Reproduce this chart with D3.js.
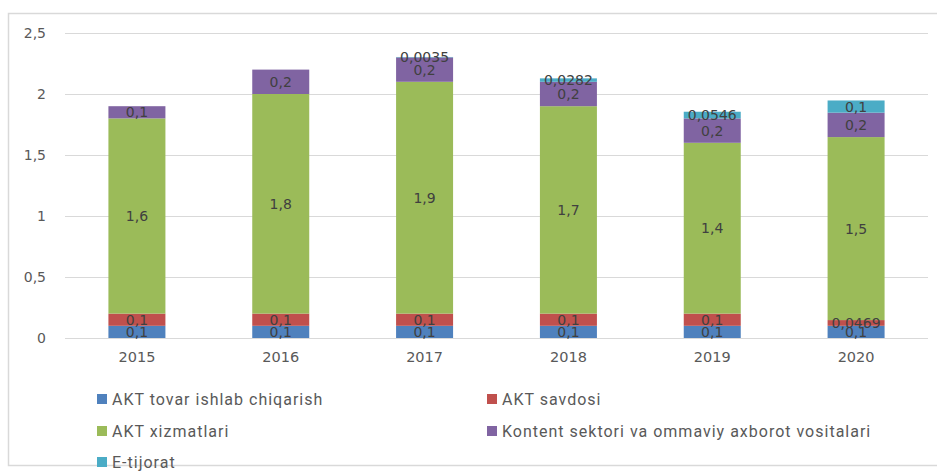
<!DOCTYPE html>
<html>
<head>
<meta charset="utf-8">
<script src="https://cdn.jsdelivr.net/npm/d3@7"></script>
<style>
  body { margin: 0; background: #fff; }
  svg { display: block; }
</style>
</head>
<body>
<svg></svg>
<script>
// Data
const years = ["2015", "2016", "2017", "2018", "2019", "2020"];
const seriesNames = [
  "AKT tovar ishlab chiqarish",
  "AKT savdosi",
  "AKT xizmatlari",
  "Kontent sektori va ommaviy axborot vositalari",
  "E-tijorat"
];
const tovar = [0.1, 0.1, 0.1, 0.1, 0.1, 0.1];
const savdo = [0.1, 0.1, 0.1, 0.1, 0.1, 0.0469];
const xizmat = [1.6, 1.8, 1.9, 1.7, 1.4, 1.5];
const kontent = [0.1, 0.2, 0.2, 0.2, 0.2, 0.2];
const etijorat = [null, null, 0.0035, 0.0282, 0.0546, 0.1];
const yTicks = [0, 0.5, 1, 1.5, 2, 2.5];
const colors = ["#4F81BD", "#C0504D", "#9BBB59", "#8064A2", "#4BACC6"];

const width = 937, height = 475;
const svg = d3.select("svg").attr("width", width).attr("height", height);

// Outer chart border
svg.append("rect")
  .attr("x", 8.5).attr("y", 13.5)
  .attr("width", 940).attr("height", 452)
  .attr("fill", "none")
  .attr("stroke", "#d9d9d9")
  .attr("stroke-width", 1.5);

const plot = { left: 65, right: 928, top: 33, bottom: 338 };

const x = d3.scaleBand()
  .domain(years)
  .range([plot.left, plot.right]);

const y = d3.scaleLinear()
  .domain([0, 2.5])
  .range([plot.bottom, plot.top]);

const fmt = v => String(v).replace(".", ",");

// Gridlines
svg.append("g")
  .selectAll("line")
  .data(yTicks)
  .join("line")
  .attr("x1", plot.left).attr("x2", plot.right)
  .attr("y1", d => Math.round(y(d)) + 0.5)
  .attr("y2", d => Math.round(y(d)) + 0.5)
  .attr("stroke", "#d9d9d9")
  .attr("stroke-width", 1);

// Y axis labels
const yAxis = svg.append("g")
  .attr("transform", `translate(${plot.left},0)`)
  .call(d3.axisLeft(y).tickValues(yTicks).tickSize(0).tickPadding(19).tickFormat(fmt));
yAxis.select(".domain").remove();
yAxis.selectAll("text")
  .attr("fill", "#595959")
  .style("font-family", "DejaVu Sans, sans-serif")
  .style("font-size", "14px");

// X axis labels
const xAxis = svg.append("g")
  .attr("transform", `translate(0,${plot.bottom})`)
  .call(d3.axisBottom(x).tickSize(0).tickPadding(14));
xAxis.select(".domain").remove();
xAxis.selectAll("text")
  .attr("fill", "#595959")
  .style("font-family", "DejaVu Sans, sans-serif")
  .style("font-size", "14.5px");

// Stack
const rows = years.map((yr, i) => ({
  year: yr,
  s0: tovar[i], s1: savdo[i], s2: xizmat[i], s3: kontent[i], s4: etijorat[i] || 0,
  raw: [tovar[i], savdo[i], xizmat[i], kontent[i], etijorat[i]]
}));
const stack = d3.stack().keys(["s0", "s1", "s2", "s3", "s4"]);
const layers = stack(rows);

const barW = 57;

const layerG = svg.append("g")
  .selectAll("g")
  .data(layers)
  .join("g")
  .attr("fill", (d, i) => colors[i]);

layerG.selectAll("rect")
  .data(d => d)
  .join("rect")
  .attr("x", d => x(d.data.year) + x.bandwidth() / 2 - barW / 2)
  .attr("y", d => y(d[1]))
  .attr("width", barW)
  .attr("height", d => y(d[0]) - y(d[1]));

// Data labels
layers.forEach((layer, li) => {
  svg.append("g")
    .selectAll("text")
    .data(layer.filter(d => d.data.raw[li] != null))
    .join("text")
    .attr("x", d => x(d.data.year) + x.bandwidth() / 2)
    .attr("y", d => (y(d[0]) + y(d[1])) / 2)
    .attr("dy", "0.36em")
    .attr("text-anchor", "middle")
    .attr("fill", "#404040")
    .style("font-family", "DejaVu Sans, sans-serif")
    .style("font-size", "14px")
    .text(d => fmt(d.data.raw[li]));
});

// Legend
const legendPos = [
  { x: 97, y: 399 },
  { x: 487, y: 399 },
  { x: 97, y: 431 },
  { x: 487, y: 431 },
  { x: 97, y: 462 }
];
const legend = svg.append("g")
  .selectAll("g")
  .data(seriesNames)
  .join("g")
  .attr("transform", (d, i) => `translate(${legendPos[i].x},${legendPos[i].y})`);

legend.append("rect")
  .attr("x", 0).attr("y", -5)
  .attr("width", 10).attr("height", 10)
  .attr("fill", (d, i) => colors[i]);

legend.append("text")
  .attr("x", 15)
  .attr("dy", "0.35em")
  .attr("fill", "#595959")
  .style("font-family", "Roboto, sans-serif")
  .style("font-size", "16px")
  .style("letter-spacing", "1px")
  .text(d => d);
</script>
</body>
</html>
